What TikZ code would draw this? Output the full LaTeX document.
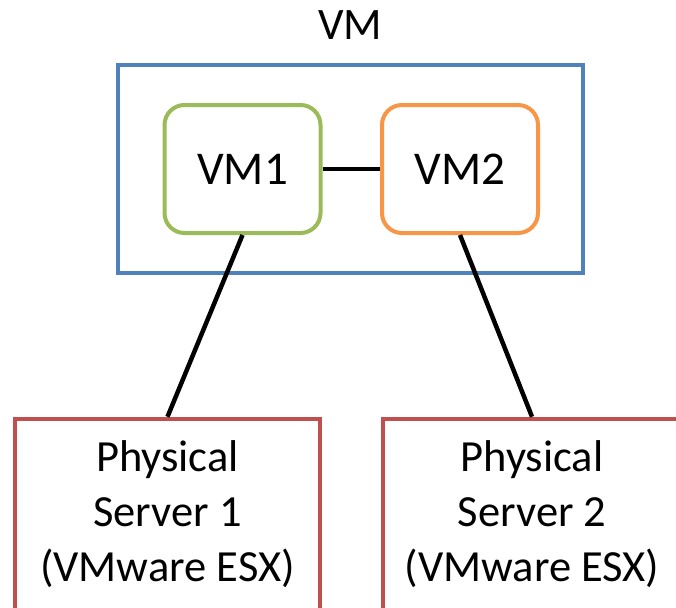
\documentclass[tikz,border=0pt]{standalone}
\usepackage{fontspec}
\setmainfont{Carlito}
\usetikzlibrary{positioning}

\definecolor{vmblue}{HTML}{4F81BD}
\definecolor{vmgreen}{HTML}{9BBB59}
\definecolor{vmorange}{HTML}{F79646}
\definecolor{hostred}{HTML}{C0504D}

\begin{document}
\begin{tikzpicture}[x=1pt, y=-1pt,
    guest/.style={draw, line width=4pt, rounded corners=20pt,
      minimum width=156pt, minimum height=128pt, inner sep=0pt,
      font=\fontsize{47}{55}\selectfont},
    host/.style={draw=hostred, line width=4.5pt,
      minimum height=191pt, inner sep=0pt,
      align=center, font=\fontsize{44.5}{55}\selectfont},
    link/.style={line width=4.5pt}]
  % page
  \clip (0,0) rectangle (676,607);
  \useasboundingbox (0,0) rectangle (676,607);

  % outer vm box
  \node[draw=vmblue, line width=4pt, minimum width=465pt,
        minimum height=208pt] (vmbox) at (350.5,169) {};
  \node[font=\fontsize{45}{54}\selectfont, anchor=base] (vmlabel) at (350,40) {VM};

  % guests
  \node[guest, draw=vmgreen]  (vm1) at (242.5,169) {VM1};
  \node[guest, draw=vmorange] (vm2) at (460,169)   {VM2};

  % hosts
  \node[host, minimum width=305pt] (server1) at (167.5,514.5) {Physical\\Server 1\\(VMware ESX)};
  \node[host, minimum width=298pt] (server2) at (532,514.5)   {Physical\\Server 2\\(VMware ESX)};

  % links
  \draw[link] (vm1.east) -- (vm2.west);
  \draw[link] (vm1.south) -- (server1.north);
  \draw[link] (vm2.south) -- (server2.north);
\end{tikzpicture}
\end{document}
